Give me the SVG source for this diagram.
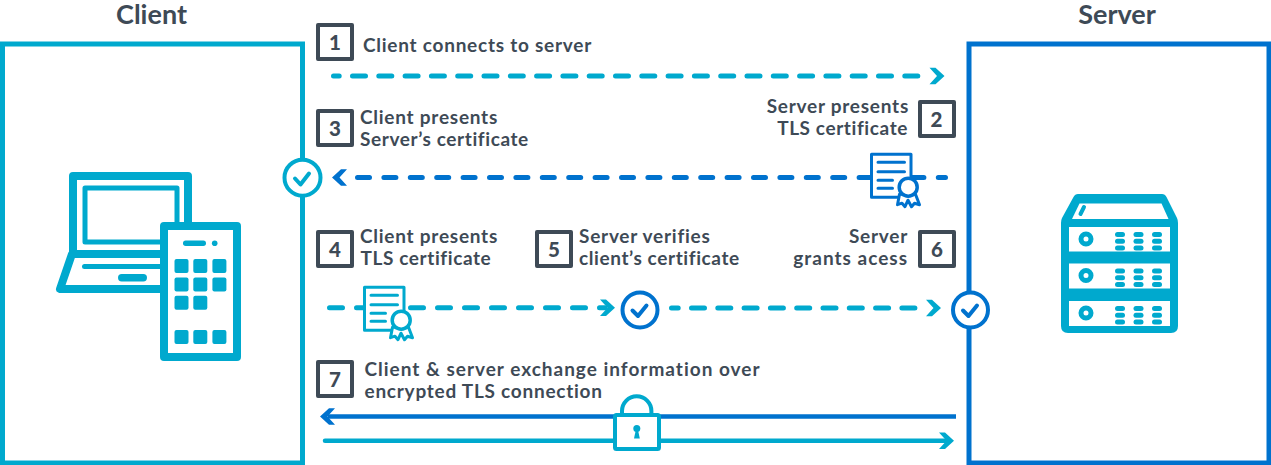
<svg xmlns="http://www.w3.org/2000/svg" xmlns:xlink="http://www.w3.org/1999/xlink" width="1271" height="465" viewBox="0 0 1271 465">
<style>
  text { font-family: "Lato", "Liberation Sans", sans-serif; fill: #3e4a56; font-weight: 700; }
  .lbl { font-size: 19px; letter-spacing: .75px; }
  .tight { letter-spacing: .6px; }
  .wide { letter-spacing: 1px; }
  .head { font-size: 27px; text-anchor: middle; }
  .num { font-size: 20.500px; text-anchor: middle; font-weight: 900; }
  .end { text-anchor: end; }
  .box { fill: #fff; stroke: #3e4a56; stroke-width: 4; stroke-linejoin: round; }
  .t { fill: #00a9ce; }
  .w { fill: #fff; }
  .tl { fill: none; stroke: #00a9ce; stroke-linejoin: round; stroke-linecap: round; }
  .dash { fill: none; stroke-width: 5; stroke-linecap: round; }
  .teal { stroke: #00a9ce; }
  .blue { stroke: #0072ce; }
  .solid { fill: none; stroke-width: 4.500; }
  .ring { fill: #fff; stroke-width: 4; }
  .tick { fill: none; stroke-width: 4; stroke-linecap: round; stroke-linejoin: round; }
</style>
<defs>
  <!-- arrowhead pointing right, tip at the origin -->
  <path id="tip" d="M0 0L-9 -8.300H-15L-7.500 0L-15 8.300H-9Z"/>
  <g id="cert">
    <path d="M0 0H39.500V43H0Z" fill="#fff" stroke-width="3" stroke-linejoin="round"/>
    <path d="M6.500 8H33M6.500 17.500H33M6.500 26H21M6.500 34H21" fill="none" stroke-width="3" stroke-linecap="round"/>
    <path d="M28 40L26 50.500L30.500 49L33.500 52.500L36.500 46L40 52.500L43 49L48 50.500L44 40Z" fill="#fff" stroke-width="3" stroke-linejoin="round"/>
    <circle cx="36.700" cy="33" r="9" fill="#fff" stroke-width="3.500"/>
  </g>
  <g id="rack-dots" class="t">
    <rect x="-5" y="-7" width="10" height="5" rx="2.500"/>
    <rect x="-5" y="-.300" width="10" height="5" rx="2.500"/>
    <rect x="-5" y="6.500" width="10" height="5" rx="2.500"/>
  </g>
  <g id="rack-row">
    <circle cx="1086" cy="0" r="5" fill="none" stroke="#00a9ce" stroke-width="5"/>
    <use xlink:href="#rack-dots" href="#rack-dots" x="1120"/>
    <use xlink:href="#rack-dots" href="#rack-dots" x="1138.500"/>
    <use xlink:href="#rack-dots" href="#rack-dots" x="1157"/>
  </g>
</defs>

<g id="client">
  <rect x="2.500" y="44" width="300" height="419" fill="#fff" stroke="#00a9ce" stroke-width="5"/>
  <text class="head" x="151.500" y="23.500">Client</text>
  <g id="laptop">
    <path class="tl" stroke-width="8" d="M73 254V176H188V226"/>
    <rect class="tl" stroke-width="5" x="85" y="188" width="92" height="54"/>
    <path class="tl" stroke-width="8" d="M73 254H160M72 254L60 289H160"/>
    <path class="tl" stroke-width="5" d="M84.500 266.500H160"/>
    <rect class="t" x="118" y="274" width="29" height="7.500" rx="3.700"/>
  </g>
  <g id="phone">
    <rect class="tl" stroke-width="8" x="164" y="226" width="73" height="131" style="fill:#fff"/>
    <rect class="t" x="183" y="240.500" width="23" height="5.500" rx="2.700"/>
    <circle class="t" cx="214.700" cy="243.200" r="2.800"/>
    <g class="t">
      <rect x="174.500" y="259" width="14" height="14" rx="2"/><rect x="193.300" y="259" width="14" height="14" rx="2"/><rect x="212.400" y="259" width="14" height="14" rx="2"/>
      <rect x="174.500" y="277.500" width="14" height="14" rx="2"/><rect x="193.300" y="277.500" width="14" height="14" rx="2"/><rect x="212.400" y="277.500" width="14" height="14" rx="2"/>
      <rect x="174.500" y="295.700" width="14" height="14" rx="2"/><rect x="193.300" y="295.700" width="14" height="14" rx="2"/>
      <rect x="174.500" y="330" width="14" height="14" rx="2"/><rect x="193.300" y="330" width="14" height="14" rx="2"/><rect x="212.400" y="330" width="14" height="14" rx="2"/>
    </g>
  </g>
</g>

<g id="server">
  <rect x="969" y="44" width="300" height="419" fill="#fff" stroke="#0072ce" stroke-width="5"/>
  <text class="head" x="1117" y="23.500">Server</text>
  <g id="server-rack">
    <path class="t" d="M1078 194H1162Q1165 194 1166.500 197L1177 218Q1178 220 1178 223V326Q1178 333 1171 333H1068Q1061 333 1061 326V223Q1061 220 1062 218L1073.500 197Q1075 194 1078 194Z"/>
    <path class="w" d="M1079.500 203.500H1161.500L1168.500 219H1072Z"/>
    <rect class="w" x="1069" y="227" width="101" height="24.500"/>
    <rect class="w" x="1069" y="263.500" width="101" height="25"/>
    <rect class="w" x="1069" y="301" width="101" height="25"/>
    <path class="tl" stroke-width="4" d="M1080.500 214L1084 207"/>
    <use xlink:href="#rack-row" href="#rack-row" y="239"/>
    <use xlink:href="#rack-row" href="#rack-row" y="275.500"/>
    <use xlink:href="#rack-row" href="#rack-row" y="313"/>
  </g>
</g>

<g id="connectors">
  <!-- 1: client to server -->
  <path class="dash teal" stroke-dasharray="13 13.300" stroke-dashoffset="7.300" d="M333.500 76H920"/>
  <use xlink:href="#tip" href="#tip" class="t" x="944.500" y="76"/>
  <!-- 2-3: server certificate returned to client -->
  <path class="dash blue" stroke-dasharray="12 14.400" d="M357.500 177.500H945.500"/>
  <use xlink:href="#tip" href="#tip" fill="#0072ce" transform="translate(332 177.500) scale(-1 1)"/>
  <!-- 4-5: client certificate sent for verification -->
  <path class="dash teal" stroke-dasharray="13 14" d="M329.500 307.700H605"/>
  <use xlink:href="#tip" href="#tip" class="t" x="615" y="307.700"/>
  <!-- 5-6: access granted -->
  <path class="dash teal" stroke-dasharray="13 13.300" stroke-dashoffset="6.300" d="M671.500 308H916"/>
  <use xlink:href="#tip" href="#tip" class="t" x="941" y="308"/>
  <!-- 7: encrypted exchange, both directions -->
  <path class="solid blue" d="M328 416.500H956"/>
  <use xlink:href="#tip" href="#tip" fill="#0072ce" transform="translate(320 416.500) scale(-1 1)"/>
  <path class="solid teal" stroke-linecap="round" d="M325 440.700H945"/>
  <use xlink:href="#tip" href="#tip" class="t" x="954" y="440.700"/>
</g>

<g id="step-1"><rect class="box" x="318" y="25" width="34" height="34"/><text class="num" x="335" y="49.500">1</text><text class="lbl" x="363" y="51.500">Client connects to server</text></g>
<g id="step-2"><rect class="box" x="920" y="102" width="34" height="34"/><text class="num" x="936.500" y="126.500">2</text><text class="lbl end" x="909" y="113">Server presents</text><text class="lbl end tight" x="908" y="135">TLS certificate</text></g>
<g id="step-3"><rect class="box" x="318" y="111" width="34" height="34"/><text class="num" x="335" y="135.500">3</text><text class="lbl" x="360" y="123.500">Client presents</text><text class="lbl tight" x="360" y="145.500">Server’s certificate</text></g>
<g id="step-4"><rect class="box" x="318" y="232" width="34" height="34"/><text class="num" x="335" y="256.500">4</text><text class="lbl" x="360" y="243">Client presents</text><text class="lbl tight" x="360.500" y="265">TLS certificate</text></g>
<g id="step-5"><rect class="box" x="537" y="232" width="34" height="34"/><text class="num" x="554" y="256.500">5</text><text class="lbl" x="579" y="243">Server verifies</text><text class="lbl tight" x="579" y="265">client’s certificate</text></g>
<g id="step-6"><rect class="box" x="920" y="232" width="34" height="34"/><text class="num" x="937" y="256.500">6</text><text class="lbl end" x="908" y="243">Server</text><text class="lbl end wide" x="908" y="265">grants acess</text></g>
<g id="step-7"><rect class="box" x="318" y="362" width="34" height="34"/><text class="num" x="335" y="386.500">7</text><text class="lbl wide" x="364.500" y="376">Client &amp; server exchange information over</text><text class="lbl" x="364.500" y="397.500">encrypted TLS connection</text></g>

<g id="certificate-server" stroke="#0072ce"><use xlink:href="#cert" href="#cert" x="871.500" y="154.200"/></g>
<g id="certificate-client" stroke="#00a9ce"><use xlink:href="#cert" href="#cert" x="364.500" y="287.200"/></g>

<g id="check-client">
  <circle class="ring teal" cx="302.500" cy="177.700" r="18"/>
  <path class="tick teal" d="M295 178.500L300.500 184.500L309 173.500"/>
</g>
<g id="check-verify">
  <circle class="ring blue" cx="640" cy="310" r="17.500"/>
  <path class="tick blue" d="M632.500 310.500L638 316L646.500 305.500"/>
</g>
<g id="check-server">
  <circle class="ring blue" cx="970.500" cy="310" r="17.500"/>
  <path class="tick blue" d="M963 310.500L968.500 316L977 305.500"/>
</g>

<g id="lock">
  <path d="M622 413V411A14.700 14.700 0 0 1 651.400 411V413" fill="none" stroke="#00a9ce" stroke-width="4"/>
  <rect x="615" y="415" width="44" height="34" rx="1.500" fill="#fff" stroke="#00a9ce" stroke-width="4"/>
  <circle class="t" cx="636.800" cy="428.500" r="3.500"/>
  <path class="t" d="M635.800 430H638L639.800 438.500H634Z"/>
</g>
</svg>
